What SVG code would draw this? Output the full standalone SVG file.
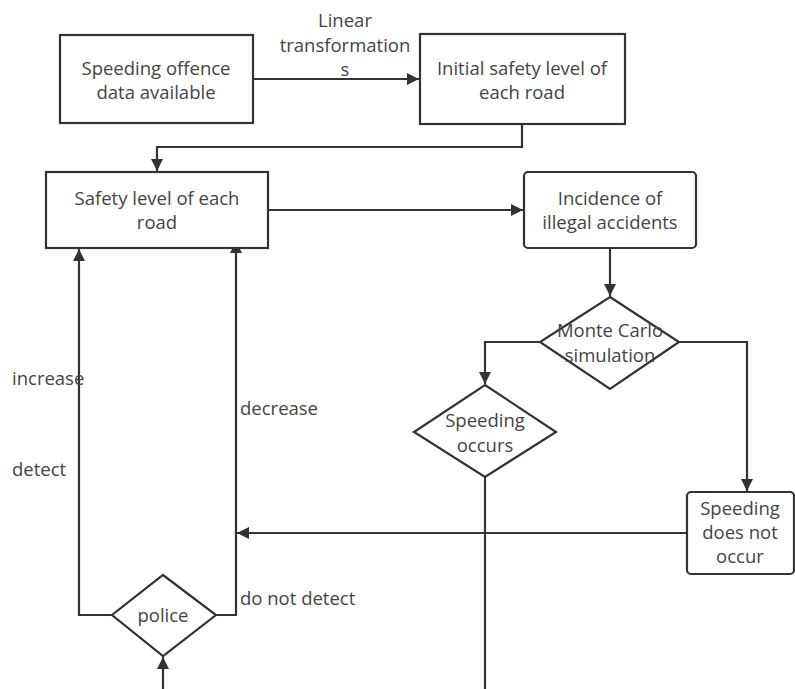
<svg xmlns="http://www.w3.org/2000/svg" width="795" height="689" viewBox="0 0 795 689">
<defs>
<style>
.box{fill:#fff;stroke:#333;stroke-width:2.2}
.ln{fill:none;stroke:#333;stroke-width:2.2}
text{font-family:"Open Sans","Noto Sans","Liberation Sans",sans-serif;font-size:18.5px;fill:#444}
.c{text-anchor:middle}
</style>
<marker id="ar" viewBox="0 0 10 10" refX="10" refY="5" markerWidth="5.5" markerHeight="5.5" orient="auto" markerUnits="strokeWidth">
<path d="M0,0 L10,5 L0,10 z" fill="#333"/>
</marker>
</defs>
<rect width="795" height="689" fill="#fff"/>
<g id="connectors">
<path class="ln" d="M253,79 H419" marker-end="url(#ar)"/>
<path class="ln" d="M522,124 V147 H157 V171" marker-end="url(#ar)"/>
<path class="ln" d="M268,210 H523" marker-end="url(#ar)"/>
<path class="ln" d="M610,248 V296" marker-end="url(#ar)"/>
<path class="ln" d="M540,342 H485 V384" marker-end="url(#ar)"/>
<path class="ln" d="M679,342 H747 V491" marker-end="url(#ar)"/>
<path class="ln" d="M485,477 V689"/>
<path class="ln" d="M687,533 H237" marker-end="url(#ar)"/>
<path class="ln" d="M112,615 H79 V249" marker-end="url(#ar)"/>
<path class="ln" d="M216,615 H236 V241" marker-end="url(#ar)"/>
<path class="ln" d="M163,689 V657" marker-end="url(#ar)"/>
<text x="345" y="27" class="c">Linear</text>
<text x="345" y="52" class="c">transformation</text>
<text x="345" y="76" class="c">s</text>
<text x="12" y="385">increase</text>
<text x="12" y="476">detect</text>
<text x="240" y="415">decrease</text>
<text x="240" y="605">do not detect</text>
</g>
<g id="n1">
<rect class="box" x="60" y="35" width="193" height="88"/>
<text x="156" y="75" class="c">Speeding offence</text>
<text x="156" y="99" class="c">data available</text>
</g>
<g id="n2">
<rect class="box" x="420" y="34" width="205" height="90"/>
<text x="522" y="75" class="c">Initial safety level of</text>
<text x="522" y="99" class="c">each road</text>
</g>
<g id="n3">
<rect class="box" x="46" y="172" width="222" height="76"/>
<text x="157" y="205" class="c">Safety level of each</text>
<text x="157" y="229" class="c">road</text>
</g>
<g id="n4">
<rect class="box" x="524" y="172" width="172" height="76" rx="4"/>
<text x="610" y="205" class="c">Incidence of</text>
<text x="610" y="229" class="c">illegal accidents</text>
</g>
<g id="n5">
<polygon class="box" points="610,297 679,342 610,389 540,342"/>
<text x="610" y="337" class="c">Monte Carlo</text>
<text x="610" y="362" class="c">simulation</text>
</g>
<g id="n6">
<polygon class="box" points="485,385 556,432 485,477 414,432"/>
<text x="485" y="427" class="c">Speeding</text>
<text x="485" y="452" class="c">occurs</text>
</g>
<g id="n7">
<rect class="box" x="687" y="492" width="107" height="82" rx="4"/>
<text x="740" y="515" class="c">Speeding</text>
<text x="740" y="539" class="c">does not</text>
<text x="740" y="563" class="c">occur</text>
</g>
<g id="n8">
<polygon class="box" points="163,575 216,615 163,656 112,615"/>
<text x="163" y="622" class="c">police</text>
</g>
</svg>
